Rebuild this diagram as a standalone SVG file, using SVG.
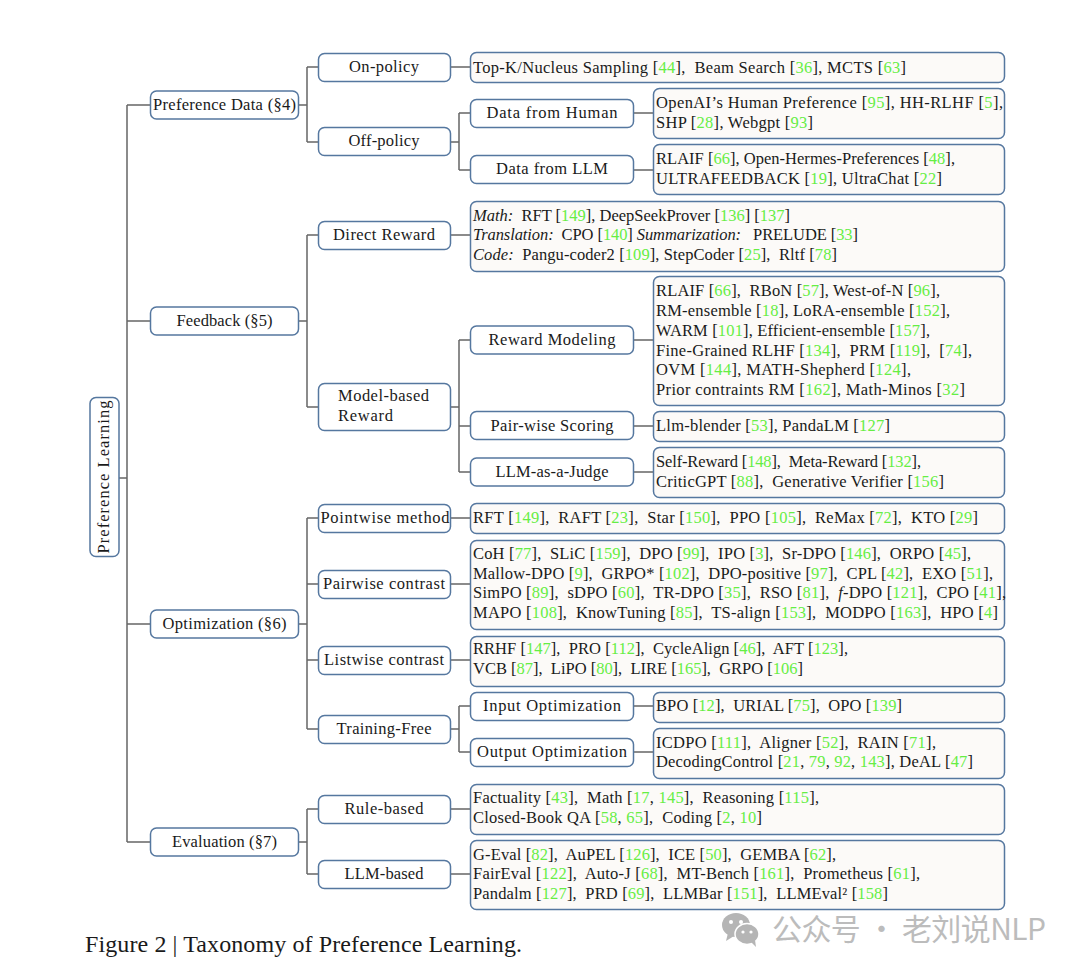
<svg xmlns="http://www.w3.org/2000/svg" width="1080" height="972" viewBox="0 0 1080 972">
<style>
text{font-family:"Liberation Serif","Noto Sans CJK SC",serif;fill:#1a1a1a;font-size:16.5px;white-space:pre}
.n{text-anchor:middle}
.b rect{fill:#fff;stroke:#55779f;stroke-width:1.5}
.l rect{fill:#fcfaf8;stroke:#55779f;stroke-width:1.5}
.r{fill:#66ee44}
.i{font-style:italic}
#connectors path{fill:none;stroke:#666;stroke-width:1.5}
</style>
<rect width="1080" height="972" fill="#fff"/>
<g id="connectors">
<path d="M119 478H127M127 105V842M127 105H150M127 321H150M127 624H150M127 842H150"/>
<path d="M298 105H307M307 67V142M307 67H318M307 142H318"/>
<path d="M298 321H307M307 235V407M307 235H318M307 407H318"/>
<path d="M298 624H307M307 518V729M307 518H318M307 584H318M307 660H318M307 729H318"/>
<path d="M298 842H307M307 809V874M307 809H318M307 874H318"/>
<path d="M450 67H470M450 235H470M450 518H470M450 584H470M450 660H470M450 809H470M450 874H470"/>
<path d="M450 142H459M459 113V170M459 113H470M459 170H470"/>
<path d="M450 407H459M459 340V472M459 340H470M459 426H470M459 472H470"/>
<path d="M450 729H459M459 706V752M459 706H470M459 752H470"/>
<path d="M633 113H653M633 170H653M633 340H653M633 426H653M633 472H653M633 706H653M633 752H653"/>
</g>
<g id="root" class="b"><rect x="90" y="397.500" width="29" height="159" rx="6"/><text class="n" transform="translate(108.500 477) rotate(-90)" textLength="153">Preference Learning</text></g>
<g id="preference-data" class="b"><rect x="150.500" y="91" width="148" height="28" rx="6"/><text class="n" x="224.500" y="110" textLength="143">Preference Data (§4)</text></g>
<g id="feedback" class="b"><rect x="150.500" y="307" width="148" height="28" rx="6"/><text class="n" x="224.500" y="326" textLength="96">Feedback (§5)</text></g>
<g id="optimization" class="b"><rect x="150.500" y="610" width="148" height="28" rx="6"/><text class="n" x="224.500" y="629" textLength="124">Optimization (§6)</text></g>
<g id="evaluation" class="b"><rect x="150.500" y="828" width="148" height="28" rx="6"/><text class="n" x="224.500" y="847" textLength="105">Evaluation (§7)</text></g>
<g id="on-policy" class="b"><rect x="318.500" y="53.500" width="132" height="28" rx="6"/><text class="n" x="384" y="72" textLength="70">On-policy</text></g>
<g id="off-policy" class="b"><rect x="318.500" y="127.500" width="132" height="28" rx="6"/><text class="n" x="384" y="146" textLength="71">Off-policy</text></g>
<g id="direct-reward" class="b"><rect x="318.500" y="221.500" width="132" height="28" rx="6"/><text class="n" x="384" y="240" textLength="102">Direct Reward</text></g>
<g id="model-based-reward" class="b"><rect x="318.500" y="383.500" width="132" height="47" rx="6"/><text x="338" y="401" textLength="91">Model-based</text><text x="338" y="421" textLength="55">Reward</text></g>
<g id="pointwise-method" class="b"><rect x="318.500" y="504.500" width="132" height="28" rx="6"/><text class="n" x="385" y="523" textLength="129">Pointwise method</text></g>
<g id="pairwise-contrast" class="b"><rect x="318.500" y="570.500" width="132" height="28" rx="6"/><text class="n" x="384" y="589" textLength="122">Pairwise contrast</text></g>
<g id="listwise-contrast" class="b"><rect x="318.500" y="646.500" width="132" height="28" rx="6"/><text class="n" x="384" y="665" textLength="120">Listwise contrast</text></g>
<g id="training-free" class="b"><rect x="318.500" y="715.500" width="132" height="28" rx="6"/><text class="n" x="384" y="734" textLength="95">Training-Free</text></g>
<g id="rule-based" class="b"><rect x="318.500" y="795.500" width="132" height="28" rx="6"/><text class="n" x="384" y="814" textLength="79">Rule-based</text></g>
<g id="llm-based" class="b"><rect x="318.500" y="860.500" width="132" height="28" rx="6"/><text class="n" x="384" y="879" textLength="79">LLM-based</text></g>
<g id="data-human" class="b"><rect x="470.500" y="99.500" width="163" height="28" rx="6"/><text class="n" x="552" y="118" textLength="131">Data from Human</text></g>
<g id="data-llm" class="b"><rect x="470.500" y="155.500" width="163" height="28" rx="6"/><text class="n" x="552" y="174" textLength="112">Data from LLM</text></g>
<g id="reward-modeling" class="b"><rect x="470.500" y="326" width="163" height="28" rx="6"/><text class="n" x="552" y="345" textLength="127">Reward Modeling</text></g>
<g id="pair-wise" class="b"><rect x="470.500" y="411.500" width="163" height="28" rx="6"/><text class="n" x="552" y="431" textLength="123">Pair-wise Scoring</text></g>
<g id="llm-judge" class="b"><rect x="470.500" y="458" width="163" height="28" rx="6"/><text class="n" x="552" y="477" textLength="113">LLM-as-a-Judge</text></g>
<g id="input-opt" class="b"><rect x="470.500" y="692.500" width="163" height="28" rx="6"/><text class="n" x="552" y="711" textLength="138">Input Optimization</text></g>
<g id="output-opt" class="b"><rect x="470.500" y="738.500" width="163" height="28" rx="6"/><text class="n" x="552" y="757" textLength="150">Output Optimization</text></g>
<g id="leaf-onpolicy" class="l"><rect x="470.500" y="52.500" width="534" height="30" rx="6"/><text x="473" y="73" textLength="433">Top-K/Nucleus Sampling [<tspan class="r">44</tspan>],  Beam Search [<tspan class="r">36</tspan>], MCTS [<tspan class="r">63</tspan>]</text></g>
<g id="leaf-human" class="l"><rect x="653.500" y="88.500" width="351" height="50" rx="6"/><text x="656" y="108" textLength="347">OpenAI’s Human Preference [<tspan class="r">95</tspan>], HH-RLHF [<tspan class="r">5</tspan>],</text><text x="656" y="128" textLength="157">SHP [<tspan class="r">28</tspan>], Webgpt [<tspan class="r">93</tspan>]</text></g>
<g id="leaf-llm" class="l"><rect x="653.500" y="144.500" width="351" height="50" rx="6"/><text x="656" y="164" textLength="299">RLAIF [<tspan class="r">66</tspan>], Open-Hermes-Preferences [<tspan class="r">48</tspan>],</text><text x="656" y="184" textLength="286">ULTRAFEEDBACK [<tspan class="r">19</tspan>], UltraChat [<tspan class="r">22</tspan>]</text></g>
<g id="leaf-direct" class="l"><rect x="470.500" y="201.500" width="534" height="70" rx="6"/><text x="473" y="221" textLength="317"><tspan class="i">Math:</tspan>  RFT [<tspan class="r">149</tspan>], DeepSeekProver [<tspan class="r">136</tspan>] [<tspan class="r">137</tspan>]</text><text x="473" y="240" textLength="385"><tspan class="i">Translation:</tspan>  CPO [<tspan class="r">140</tspan>] <tspan class="i">Summarization:</tspan>   PRELUDE [<tspan class="r">33</tspan>]</text><text x="473" y="260" textLength="364"><tspan class="i">Code:</tspan>  Pangu-coder2 [<tspan class="r">109</tspan>], StepCoder [<tspan class="r">25</tspan>],  Rltf [<tspan class="r">78</tspan>]</text></g>
<g id="leaf-reward" class="l"><rect x="653.500" y="276.500" width="351" height="129" rx="6"/><text x="656" y="296" textLength="284">RLAIF [<tspan class="r">66</tspan>],  RBoN [<tspan class="r">57</tspan>], West-of-N [<tspan class="r">96</tspan>],</text><text x="656" y="316" textLength="294">RM-ensemble [<tspan class="r">18</tspan>], LoRA-ensemble [<tspan class="r">152</tspan>],</text><text x="656" y="336" textLength="274">WARM [<tspan class="r">101</tspan>], Efficient-ensemble [<tspan class="r">157</tspan>],</text><text x="656" y="356" textLength="316">Fine-Grained RLHF [<tspan class="r">134</tspan>],  PRM [<tspan class="r">119</tspan>],  [<tspan class="r">74</tspan>],</text><text x="656" y="375" textLength="255">OVM [<tspan class="r">144</tspan>], MATH-Shepherd [<tspan class="r">124</tspan>],</text><text x="656" y="395" textLength="309">Prior contraints RM [<tspan class="r">162</tspan>], Math-Minos [<tspan class="r">32</tspan>]</text></g>
<g id="leaf-pairwise-scoring" class="l"><rect x="653.500" y="411.500" width="351" height="30" rx="6"/><text x="656" y="431" textLength="234">Llm-blender [<tspan class="r">53</tspan>], PandaLM [<tspan class="r">127</tspan>]</text></g>
<g id="leaf-judge" class="l"><rect x="653.500" y="447.500" width="351" height="50" rx="6"/><text x="656" y="467" textLength="265">Self-Reward [<tspan class="r">148</tspan>],  Meta-Reward [<tspan class="r">132</tspan>],</text><text x="656" y="487" textLength="288">CriticGPT [<tspan class="r">88</tspan>],  Generative Verifier [<tspan class="r">156</tspan>]</text></g>
<g id="leaf-pointwise" class="l"><rect x="470.500" y="503.500" width="534" height="30" rx="6"/><text x="473" y="523" textLength="505">RFT [<tspan class="r">149</tspan>],  RAFT [<tspan class="r">23</tspan>],  Star [<tspan class="r">150</tspan>],  PPO [<tspan class="r">105</tspan>],  ReMax [<tspan class="r">72</tspan>],  KTO [<tspan class="r">29</tspan>]</text></g>
<g id="leaf-pairwise" class="l"><rect x="470.500" y="540.500" width="534" height="89" rx="6"/><text x="473" y="559" textLength="498">CoH [<tspan class="r">77</tspan>],  SLiC [<tspan class="r">159</tspan>],  DPO [<tspan class="r">99</tspan>],  IPO [<tspan class="r">3</tspan>],  Sr-DPO [<tspan class="r">146</tspan>],  ORPO [<tspan class="r">45</tspan>],</text><text x="473" y="579" textLength="520">Mallow-DPO [<tspan class="r">9</tspan>],  GRPO* [<tspan class="r">102</tspan>],  DPO-positive [<tspan class="r">97</tspan>],  CPL [<tspan class="r">42</tspan>],  EXO [<tspan class="r">51</tspan>],</text><text x="473" y="598" textLength="533">SimPO [<tspan class="r">89</tspan>],  sDPO [<tspan class="r">60</tspan>],  TR-DPO [<tspan class="r">35</tspan>],  RSO [<tspan class="r">81</tspan>],  <tspan class="i">f</tspan>-DPO [<tspan class="r">121</tspan>],  CPO [<tspan class="r">41</tspan>],</text><text x="473" y="618" textLength="525">MAPO [<tspan class="r">108</tspan>],  KnowTuning [<tspan class="r">85</tspan>],  TS-align [<tspan class="r">153</tspan>],  MODPO [<tspan class="r">163</tspan>],  HPO [<tspan class="r">4</tspan>]</text></g>
<g id="leaf-listwise" class="l"><rect x="470.500" y="636.500" width="534" height="50" rx="6"/><text x="473" y="654" textLength="375">RRHF [<tspan class="r">147</tspan>],  PRO [<tspan class="r">112</tspan>],  CycleAlign [<tspan class="r">46</tspan>],  AFT [<tspan class="r">123</tspan>],</text><text x="473" y="674" textLength="330">VCB [<tspan class="r">87</tspan>],  LiPO [<tspan class="r">80</tspan>],  LIRE [<tspan class="r">165</tspan>],  GRPO [<tspan class="r">106</tspan>]</text></g>
<g id="leaf-input" class="l"><rect x="653.500" y="692.500" width="351" height="30" rx="6"/><text x="656" y="711" textLength="246">BPO [<tspan class="r">12</tspan>],  URIAL [<tspan class="r">75</tspan>],  OPO [<tspan class="r">139</tspan>]</text></g>
<g id="leaf-output" class="l"><rect x="653.500" y="728.500" width="351" height="50" rx="6"/><text x="656" y="748" textLength="280">ICDPO [<tspan class="r">111</tspan>],  Aligner [<tspan class="r">52</tspan>],  RAIN [<tspan class="r">71</tspan>],</text><text x="656" y="767" textLength="317">DecodingControl [<tspan class="r">21</tspan>, <tspan class="r">79</tspan>, <tspan class="r">92</tspan>, <tspan class="r">143</tspan>], DeAL [<tspan class="r">47</tspan>]</text></g>
<g id="leaf-rule" class="l"><rect x="470.500" y="784.500" width="534" height="50" rx="6"/><text x="473" y="803" textLength="346">Factuality [<tspan class="r">43</tspan>],  Math [<tspan class="r">17</tspan>, <tspan class="r">145</tspan>],  Reasoning [<tspan class="r">115</tspan>],</text><text x="473" y="823" textLength="289">Closed-Book QA [<tspan class="r">58</tspan>, <tspan class="r">65</tspan>],  Coding [<tspan class="r">2</tspan>, <tspan class="r">10</tspan>]</text></g>
<g id="leaf-llmbased" class="l"><rect x="470.500" y="840.500" width="534" height="69" rx="6"/><text x="473" y="860" textLength="363">G-Eval [<tspan class="r">82</tspan>],  AuPEL [<tspan class="r">126</tspan>],  ICE [<tspan class="r">50</tspan>],  GEMBA [<tspan class="r">62</tspan>],</text><text x="473" y="879" textLength="447">FairEval [<tspan class="r">122</tspan>],  Auto-J [<tspan class="r">68</tspan>],  MT-Bench [<tspan class="r">161</tspan>],  Prometheus [<tspan class="r">61</tspan>],</text><text x="473" y="899" textLength="415">Pandalm [<tspan class="r">127</tspan>],  PRD [<tspan class="r">69</tspan>],  LLMBar [<tspan class="r">151</tspan>],  LLMEval² [<tspan class="r">158</tspan>]</text></g>
<text x="85" y="952" style="font-size:24px" textLength="437">Figure 2 | Taxonomy of Preference Learning.</text>
<g fill="#b5b5b5">
<ellipse cx="736" cy="925" rx="14" ry="12"/><path d="M728 933l-2 8 8-5z"/>
<ellipse cx="747" cy="934" rx="12" ry="10.500" stroke="#fff" stroke-width="1.500"/><path d="M751 942l5 5-1-7z"/>
<g fill="#fff"><circle cx="731" cy="922" r="2"/><circle cx="741" cy="922" r="2"/><circle cx="743" cy="932" r="1.600"/><circle cx="751" cy="932" r="1.600"/></g>
</g>
<text x="772" y="940" style="fill:#bcbcbc;font-family:'Noto Sans CJK SC','Noto Sans',sans-serif;font-size:30px" textLength="274">公众号 · 老刘说NLP</text>
</svg>
